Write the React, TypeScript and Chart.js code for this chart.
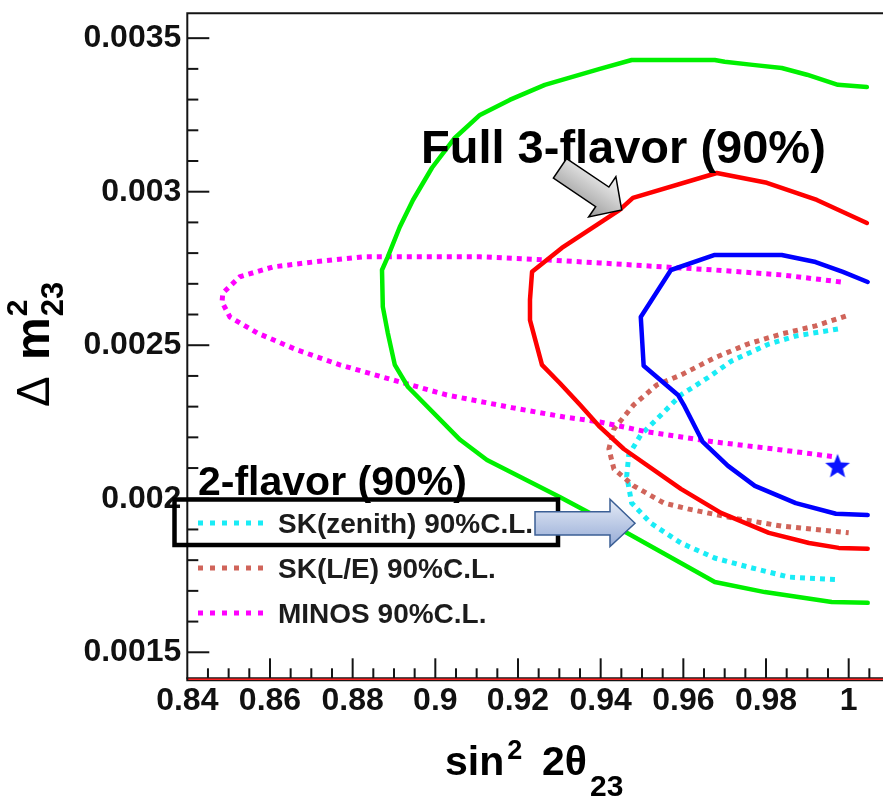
import React, { useEffect, useRef } from "react";
import { Chart, registerables } from "chart.js";

Chart.register(...registerables);

// Atmospheric oscillation contours: Δm²23 against sin²2θ23 (90% C.L.)
const X_MIN = 0.84;
const X_MAX = 1.0083;
const Y_MIN = 0.001412;
const Y_MAX = 0.003581;

const X_TICKS = [0.84, 0.86, 0.88, 0.9, 0.92, 0.94, 0.96, 0.98, 1.0];
const X_TICK_LABELS = ["0.84", "0.86", "0.88", "0.9", "0.92", "0.94", "0.96", "0.98", "1"];
const Y_TICKS = [0.0015, 0.002, 0.0025, 0.003, 0.0035];
const Y_TICK_LABELS = ["0.0015", "0.002", "0.0025", "0.003", "0.0035"];

// Full 3-flavor, outer contour
const GREEN_X = [1.0044, 0.9974, 0.9899, 0.9838, 0.9768, 0.97, 0.9676, 0.9475, 0.9398, 0.9265, 0.918, 0.9108, 0.9047, 0.8992, 0.8946, 0.8914, 0.8885, 0.8871, 0.8873, 0.8885, 0.8902, 0.8934, 0.906, 0.9125, 0.9301, 0.9463, 0.9594, 0.9676, 0.9797, 0.9959, 1.0046];
const GREEN_Y = [0.003341, 0.003348, 0.003381, 0.003403, 0.003413, 0.003423, 0.003429, 0.003429, 0.0034, 0.003348, 0.003299, 0.00325, 0.003175, 0.003078, 0.002973, 0.002885, 0.002788, 0.002745, 0.002625, 0.00254, 0.002436, 0.002364, 0.002192, 0.002126, 0.002006, 0.001889, 0.001791, 0.001729, 0.001696, 0.001664, 0.001661];

// Full 3-flavor, middle contour
const RED_X = [1.0044, 0.9923, 0.9802, 0.9681, 0.9478, 0.9446, 0.9306, 0.9234, 0.9229, 0.9229, 0.9258, 0.9301, 0.935, 0.9398, 0.9456, 0.9594, 0.9691, 0.9807, 0.9904, 0.9976, 1.0046];
const RED_Y = [0.002898, 0.002973, 0.003029, 0.003061, 0.00298, 0.002941, 0.002817, 0.002739, 0.002648, 0.002582, 0.002436, 0.002377, 0.002306, 0.002234, 0.002162, 0.002032, 0.001954, 0.001889, 0.001856, 0.00184, 0.001837];

// Full 3-flavor, inner contour
const BLUE_X = [1.0046, 0.9986, 0.992, 0.9838, 0.9676, 0.957, 0.9497, 0.9504, 0.9587, 0.9601, 0.9647, 0.9708, 0.9773, 0.9872, 0.9969, 1.0046];
const BLUE_Y = [0.002706, 0.002739, 0.002771, 0.002794, 0.002794, 0.002745, 0.002592, 0.002433, 0.002338, 0.002306, 0.002185, 0.002107, 0.002042, 0.001986, 0.001951, 0.001947];

// SK(zenith) 90% C.L.
const CYAN_X = [0.9974, 0.9872, 0.9807, 0.9717, 0.9659, 0.9594, 0.9546, 0.9497, 0.9468, 0.9463, 0.9475, 0.9521, 0.9594, 0.9676, 0.9756, 0.9855, 0.9976];
const CYAN_Y = [0.002553, 0.00253, 0.002504, 0.002449, 0.002394, 0.002338, 0.002273, 0.002208, 0.002143, 0.002074, 0.001986, 0.001921, 0.001856, 0.001807, 0.001778, 0.001745, 0.001736];

// SK(L/E) 90% C.L.
const BROWN_X = [0.9993, 0.992, 0.9838, 0.9756, 0.9676, 0.9594, 0.9536, 0.948, 0.9432, 0.942, 0.9432, 0.948, 0.9553, 0.9611, 0.9717, 0.9838, 1.0];
const BROWN_Y = [0.002595, 0.002563, 0.002537, 0.002504, 0.002459, 0.002403, 0.002371, 0.002306, 0.002227, 0.002162, 0.002097, 0.002042, 0.001986, 0.001967, 0.001938, 0.001911, 0.001889];

// MINOS 90% C.L.
const MAGENTA_X = [0.9981, 0.9838, 0.9676, 0.9553, 0.9398, 0.927, 0.9108, 0.8946, 0.8825, 0.8704, 0.8607, 0.8527, 0.8486, 0.8484, 0.8503, 0.8569, 0.8665, 0.8769, 0.8897, 0.9028, 0.9188, 0.9309, 0.9398, 0.9512, 0.9676, 0.9838, 0.9969];
const MAGENTA_Y = [0.002706, 0.002729, 0.002745, 0.002755, 0.002768, 0.002778, 0.002788, 0.002788, 0.002788, 0.002771, 0.002755, 0.002723, 0.00267, 0.002641, 0.002592, 0.00254, 0.002485, 0.002436, 0.002387, 0.002338, 0.002296, 0.002267, 0.00225, 0.002218, 0.002185, 0.002159, 0.002136];

// Best-fit point
const BEST_X = [0.9973];
const BEST_Y = [0.002104];

const LEGEND_NAMES = ["SK(zenith) 90%C.L.", "SK(L/E) 90%C.L.", "MINOS 90%C.L."];
const LEGEND_COLORS = ["#19ecf6", "#d0645a", "#ff00ff"];

const FONT = '"Liberation Sans", Arial, Helvetica, sans-serif';
const INK = "#141414";

const pts = (xs: number[], ys: number[]) => xs.map((x, i) => ({ x, y: ys[i] }));

function makeStar(): HTMLCanvasElement {
  const c = document.createElement("canvas");
  c.width = 30;
  c.height = 30;
  const g = c.getContext("2d")!;
  g.beginPath();
  for (let k = 0; k < 10; k++) {
    const r = k % 2 === 0 ? 13 : 5.6;
    const a = -Math.PI / 2 + (k * Math.PI) / 5;
    const px = 15 + r * Math.cos(a);
    const py = 15 + r * Math.sin(a);
    if (k === 0) g.moveTo(px, py);
    else g.lineTo(px, py);
  }
  g.closePath();
  g.fillStyle = "#0a14ff";
  g.fill();
  return c;
}

const axisFrame = {
  id: "axisFrame",
  beforeDatasetsDraw(chart: any) {
    const { ctx, chartArea: a, scales } = chart;
    const xs = scales.x;
    const ys = scales.y;
    ctx.save();
    ctx.strokeStyle = INK;
    ctx.lineWidth = 2;
    ctx.lineCap = "butt";
    // y ticks, pointing inward
    for (let k = 14; k <= 36; k++) {
      const v = k / 10000;
      const py = ys.getPixelForValue(v);
      if (py < a.top + 2 || py > a.bottom - 2) continue;
      const major = k % 5 === 0;
      ctx.beginPath();
      ctx.moveTo(a.left, py);
      ctx.lineTo(a.left + (major ? 22 : 11), py);
      ctx.stroke();
    }
    // x ticks, pointing inward
    for (let k = 168; k <= 202; k++) {
      const v = k / 200;
      const px = xs.getPixelForValue(v);
      if (px < a.left + 2 || px > a.right - 1) continue;
      const major = k % 4 === 0;
      ctx.beginPath();
      ctx.moveTo(px, a.bottom);
      ctx.lineTo(px, a.bottom - (major ? 21 : 11));
      ctx.stroke();
    }
    // frame
    ctx.beginPath();
    ctx.moveTo(a.left, a.bottom);
    ctx.lineTo(a.left, a.top);
    ctx.lineTo(a.right, a.top);
    ctx.stroke();
    ctx.lineWidth = 4;
    ctx.beginPath();
    ctx.moveTo(a.left - 1, a.bottom);
    ctx.lineTo(a.right, a.bottom);
    ctx.stroke();
    ctx.strokeStyle = "#ff2020";
    ctx.lineWidth = 1.6;
    ctx.beginPath();
    ctx.moveTo(a.left + 1, a.bottom);
    ctx.lineTo(a.right, a.bottom);
    ctx.stroke();
    ctx.restore();
  },
};

function drawArrowPath(ctx: CanvasRenderingContext2D, p: number[][]) {
  ctx.beginPath();
  p.forEach(([x, y], i) => (i === 0 ? ctx.moveTo(x, y) : ctx.lineTo(x, y)));
  ctx.closePath();
}

const notes = {
  id: "notes",
  afterDraw(chart: any) {
    const { ctx } = chart;
    ctx.save();
    ctx.textAlign = "left";
    ctx.textBaseline = "alphabetic";
    ctx.fillStyle = "#000";

    // axis titles
    ctx.font = `bold 41px ${FONT}`;
    ctx.fillText("sin", 445, 775);
    let tx = 445 + ctx.measureText("sin").width + 3;
    ctx.font = `bold 27px ${FONT}`;
    ctx.fillText("2", tx, 759);
    ctx.font = `bold 41px ${FONT}`;
    ctx.fillText("2θ", 542, 775);
    tx = 542 + ctx.measureText("2θ").width + 3;
    ctx.font = `bold 30px ${FONT}`;
    ctx.fillText("23", tx, 796);

    ctx.save();
    ctx.translate(49, 407);
    ctx.rotate(-Math.PI / 2);
    ctx.font = `46px ${FONT}`;
    ctx.fillText("Δ", 0, 0);
    ctx.font = `bold 48px ${FONT}`;
    ctx.fillText("m", 47, 0);
    const mx = 47 + ctx.measureText("m").width + 1;
    ctx.font = `bold 30px ${FONT}`;
    ctx.fillText("2", mx, -22);
    ctx.font = `bold 31px ${FONT}`;
    ctx.fillText("23", mx, 14);
    ctx.restore();

    // headline labels
    ctx.font = `bold 47px ${FONT}`;
    ctx.fillText("Full 3-flavor (90%)", 421, 163);
    ctx.font = `bold 41px ${FONT}`;
    ctx.fillText("2-flavor (90%)", 198, 495);

    // legend for the 2-flavor contours
    const rows = [523, 568, 613];
    rows.forEach((ry, i) => {
      ctx.save();
      ctx.strokeStyle = LEGEND_COLORS[i];
      ctx.lineWidth = 5;
      ctx.setLineDash([5, 7]);
      ctx.beginPath();
      ctx.moveTo(198, ry);
      ctx.lineTo(264, ry);
      ctx.stroke();
      ctx.restore();
      ctx.fillStyle = "#1c1c1c";
      ctx.font = `bold 28px ${FONT}`;
      ctx.fillText(LEGEND_NAMES[i], 278, ry + 10);
    });

    // highlight box round the SK(zenith) entry
    ctx.strokeStyle = "#000";
    ctx.lineWidth = 4.5;
    ctx.strokeRect(174.5, 499.5, 383.5, 45.5);

    // blue arrow to the SK(zenith) contour
    const bg = ctx.createLinearGradient(0, 499, 0, 546);
    bg.addColorStop(0, "#e6ecf7");
    bg.addColorStop(1, "#97acd6");
    drawArrowPath(ctx, [
      [535, 511.7], [610, 511.7], [610, 499.3], [635, 523.3],
      [610, 546.5], [610, 535], [535, 535],
    ]);
    ctx.fillStyle = bg;
    ctx.fill();
    ctx.strokeStyle = "#3b5f95";
    ctx.lineWidth = 1.5;
    ctx.stroke();

    // grey arrow to the 3-flavor contours
    ctx.save();
    ctx.translate(560, 168.3);
    ctx.rotate(Math.atan2(41.7, 61.7));
    const gg = ctx.createLinearGradient(0, -24, 0, 24);
    gg.addColorStop(0, "#f6f6f6");
    gg.addColorStop(1, "#9a9a9a");
    drawArrowPath(ctx, [
      [0, -11.8], [51, -11.8], [51, -24.3], [74.5, 0],
      [51, 24.3], [51, 11.8], [0, 11.8],
    ]);
    ctx.fillStyle = gg;
    ctx.fill();
    ctx.strokeStyle = "#000";
    ctx.lineWidth = 1.5;
    ctx.stroke();
    ctx.restore();

    ctx.restore();
  },
};

export default function App() {
  const ref = useRef<HTMLCanvasElement | null>(null);

  useEffect(() => {
    if (!ref.current) return;
    const solid = (data: any, color: string) => ({
      data,
      showLine: true,
      borderColor: color,
      borderWidth: 4.5,
      pointRadius: 0,
      tension: 0,
      borderJoinStyle: "round" as const,
      borderCapStyle: "round" as const,
    });
    const dotted = (data: any, color: string) => ({
      data,
      showLine: true,
      borderColor: color,
      borderWidth: 5,
      borderDash: [5, 5],
      pointRadius: 0,
      tension: 0,
      borderCapStyle: "butt" as const,
    });

    const chart = new Chart(ref.current, {
      type: "scatter",
      data: {
        datasets: [
          {
            data: pts(BEST_X, BEST_Y),
            pointStyle: makeStar() as any,
            pointRadius: 13,
            showLine: false,
          } as any,
          solid(pts(BLUE_X, BLUE_Y), "#0000ff"),
          solid(pts(RED_X, RED_Y), "#ff0000"),
          solid(pts(GREEN_X, GREEN_Y), "#00f000"),
          dotted(pts(MAGENTA_X, MAGENTA_Y), LEGEND_COLORS[2]),
          dotted(pts(BROWN_X, BROWN_Y), LEGEND_COLORS[1]),
          dotted(pts(CYAN_X, CYAN_Y), LEGEND_COLORS[0]),
        ],
      },
      options: {
        animation: false,
        responsive: false,
        devicePixelRatio: 1,
        layout: { autoPadding: false, padding: { top: 13.3, left: 0, right: 0, bottom: 0 } },
        plugins: {
          legend: { display: false },
          tooltip: { enabled: false },
        },
        scales: {
          x: {
            type: "linear",
            position: "bottom",
            min: X_MIN,
            max: X_MAX,
            grid: { display: false, drawTicks: false },
            border: { display: false },
            afterBuildTicks: (s: any) => {
              s.ticks = X_TICKS.map((value) => ({ value }));
            },
            afterFit: (s: any) => {
              s.height = 118.7;
              s.paddingLeft = 0;
              s.paddingRight = 0;
              s.paddingTop = 0;
              s.paddingBottom = 0;
            },
            ticks: {
              autoSkip: false,
              maxRotation: 0,
              minRotation: 0,
              padding: 3,
              color: "#111",
              font: { family: FONT, size: 32, weight: "bold" },
              callback: (_v: any, i: number) => X_TICK_LABELS[i],
            },
          },
          y: {
            type: "linear",
            position: "left",
            min: Y_MIN,
            max: Y_MAX,
            grid: { display: false, drawTicks: false },
            border: { display: false },
            afterBuildTicks: (s: any) => {
              s.ticks = Y_TICKS.map((value) => ({ value }));
            },
            afterFit: (s: any) => {
              s.width = 187.3;
              s.paddingLeft = 0;
              s.paddingRight = 0;
              s.paddingTop = 0;
              s.paddingBottom = 0;
            },
            ticks: {
              autoSkip: false,
              padding: 6,
              color: "#111",
              font: { family: FONT, size: 32, weight: "bold" },
              callback: (_v: any, i: number) => Y_TICK_LABELS[i],
            },
          },
        },
      } as any,
      plugins: [axisFrame, notes],
    });
    return () => chart.destroy();
  }, []);

  return (
    <div style={{ position: "fixed", left: 0, top: 0, width: 883, height: 798, background: "#fff" }}>
      <canvas ref={ref} width={883} height={798} style={{ display: "block" }} />
    </div>
  );
}
